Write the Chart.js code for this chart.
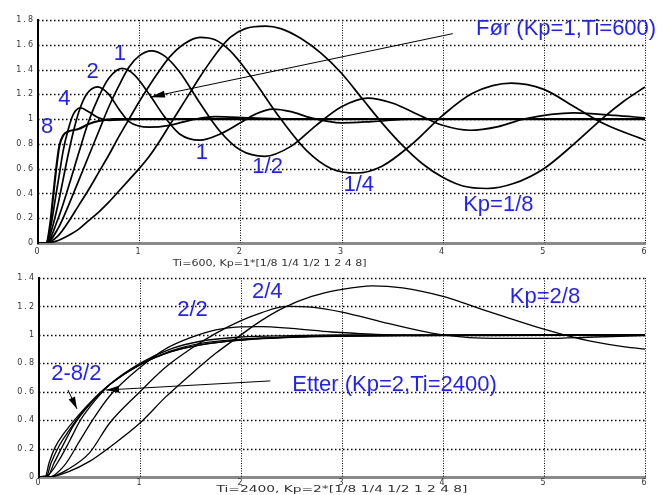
<!DOCTYPE html>
<html>
<head>
<meta charset="utf-8">
<script src="https://cdn.jsdelivr.net/npm/chart.js@4/dist/chart.umd.min.js"></script>
<style>
  body { margin: 0; background: #fff; }
  #wrap { position: relative; width: 663px; height: 495px; }
  canvas { position: absolute; left: 0; }
</style>
</head>
<body>
<div id="wrap">
  <canvas id="topChart" width="663" height="270" style="top:0"></canvas>
  <canvas id="botChart" width="663" height="225" style="top:270px"></canvas>
</div>
<script>
// ---- top plot: Ti=600, Kp = 1*[1/8 1/4 1/2 1 2 4 8] ----
const xTicks = [0, 1, 2, 3, 4, 5, 6];

const topT_1_8 = [0, 0.08, 0.2, 0.3, 0.4, 0.5, 0.6, 0.7, 0.8, 0.9, 1.0, 1.1, 1.2, 1.3, 1.4, 1.5, 1.6, 1.7, 1.8, 1.9, 2.05, 2.25, 2.4, 2.6, 2.8, 3.0, 3.2, 3.4, 3.6, 3.8, 4.0, 4.2, 4.44, 4.7, 5.0, 5.3, 5.6, 5.8, 6.0];
const topY_1_8 = [0, 0, 0.02, 0.06, 0.11, 0.18, 0.25, 0.33, 0.42, 0.51, 0.6, 0.7, 0.82, 0.95, 1.08, 1.21, 1.34, 1.46, 1.57, 1.66, 1.73, 1.75, 1.73, 1.65, 1.53, 1.37, 1.17, 0.97, 0.79, 0.64, 0.53, 0.46, 0.44, 0.48, 0.6, 0.8, 1.02, 1.15, 1.26];

const topT_1_4 = [0, 0.08, 0.2, 0.3, 0.4, 0.5, 0.6, 0.7, 0.8, 0.9, 1.0, 1.1, 1.2, 1.3, 1.45, 1.6, 1.75, 1.9, 2.1, 2.4, 2.65, 2.9, 3.15, 3.4, 3.7, 4.0, 4.3, 4.68, 5.0, 5.3, 5.6, 6.0];
const topY_1_4 = [0, 0, 0.06, 0.17, 0.3, 0.43, 0.57, 0.71, 0.86, 1.0, 1.14, 1.27, 1.39, 1.5, 1.61, 1.66, 1.64, 1.55, 1.35, 1.0, 0.75, 0.6, 0.565, 0.62, 0.8, 1.03, 1.21, 1.29, 1.24, 1.1, 0.96, 0.83];

const topT_1_2 = [0, 0.08, 0.2, 0.3, 0.4, 0.5, 0.6, 0.7, 0.8, 0.9, 1.0, 1.12, 1.25, 1.4, 1.6, 1.8, 2.0, 2.24, 2.5, 2.75, 3.0, 3.26, 3.5, 3.8, 4.0, 4.27, 4.55, 4.8, 5.3, 5.7, 6.0];
const topY_1_2 = [0, 0, 0.12, 0.3, 0.5, 0.7, 0.9, 1.1, 1.27, 1.42, 1.51, 1.55, 1.51, 1.38, 1.13, 0.9, 0.75, 0.7, 0.78, 0.95, 1.1, 1.17, 1.13, 1.02, 0.95, 0.91, 0.94, 1.0, 1.05, 1.03, 1.01];

const topT_1 = [0, 0.08, 0.2, 0.3, 0.4, 0.5, 0.6, 0.7, 0.83, 0.95, 1.1, 1.25, 1.4, 1.6, 1.8, 2.0, 2.15, 2.32, 2.5, 2.7, 3.0, 3.3, 3.7, 6.0];
const topY_1 = [0, 0, 0.2, 0.45, 0.72, 0.98, 1.18, 1.33, 1.41, 1.36, 1.2, 1.02, 0.88, 0.83, 0.88, 0.97, 1.04, 1.08, 1.06, 1.01, 0.97, 0.98, 1.0, 1.0];

const topT_2 = [0, 0.08, 0.15, 0.2, 0.25, 0.3, 0.35, 0.4, 0.48, 0.59, 0.7, 0.8, 0.9, 1.1, 1.3, 1.5, 1.75, 2.1, 2.5, 6.0];
const topY_2 = [0, 0, 0.15, 0.32, 0.52, 0.72, 0.9, 1.05, 1.2, 1.26, 1.2, 1.08, 0.98, 0.935, 0.95, 0.99, 1.02, 1.01, 1.0, 1.0];

const topT_4 = [0, 0.08, 0.13, 0.17, 0.21, 0.25, 0.3, 0.35, 0.42, 0.5, 0.6, 0.7, 0.85, 1.0, 6.0];
const topY_4 = [0, 0, 0.15, 0.35, 0.55, 0.75, 0.92, 1.04, 1.09, 1.06, 1.01, 0.99, 0.995, 1.0, 1.0];

const topT_8 = [0, 0.08, 0.12, 0.15, 0.18, 0.21, 0.25, 0.3, 0.4, 0.5, 0.6, 0.75, 6.0];
const topY_8 = [0, 0, 0.15, 0.38, 0.6, 0.78, 0.87, 0.9, 0.92, 0.96, 0.985, 1.0, 1.0];

// ---- bottom plot: Ti=2400, Kp = 2*[1/8 1/4 1/2 1 2 4 8] ----
const botT_2_8 = [0, 0.1, 0.3, 0.5, 0.7, 1.0, 1.25, 1.5, 1.75, 2.0, 2.2, 2.42, 2.7, 3.0, 3.3, 3.6, 4.0, 4.3, 4.6, 5.0, 5.2, 5.5, 5.8, 6.0];
const botY_2_8 = [0, 0, 0.04, 0.11, 0.21, 0.38, 0.56, 0.72, 0.87, 1.0, 1.1, 1.19, 1.27, 1.32, 1.345, 1.33, 1.27, 1.2, 1.13, 1.04, 1.0, 0.95, 0.915, 0.9];

const botT_2_4 = [0, 0.1, 0.3, 0.5, 0.7, 1.0, 1.25, 1.5, 1.75, 2.0, 2.2, 2.45, 2.7, 3.0, 3.4, 3.7, 4.0, 4.5, 5.0, 5.5, 6.0];
const botY_2_4 = [0, 0, 0.06, 0.17, 0.38, 0.6, 0.77, 0.9, 1.01, 1.1, 1.155, 1.2, 1.195, 1.16, 1.09, 1.04, 1.0, 0.975, 0.975, 0.985, 0.995];

const botT_2_2 = [0, 0.1, 0.25, 0.4, 0.53, 0.7, 1.0, 1.25, 1.5, 1.75, 1.95, 2.2, 2.5, 2.9, 3.3, 3.8, 4.5, 6.0];
const botY_2_2 = [0, 0, 0.08, 0.25, 0.4, 0.57, 0.77, 0.9, 0.98, 1.035, 1.055, 1.058, 1.045, 1.02, 1.005, 0.995, 0.995, 1.0];

const botT_2 = [0, 0.1, 0.2, 0.3, 0.41, 0.5, 0.7, 1.0, 1.3, 1.6, 2.0, 2.5, 3.0, 6.0];
const botY_2 = [0, 0.02, 0.12, 0.25, 0.4, 0.49, 0.65, 0.8, 0.9, 0.955, 0.985, 0.995, 1.0, 1.0];

const botT_4 = [0, 0.08, 0.15, 0.25, 0.34, 0.5, 0.7, 1.0, 1.3, 1.6, 2.0, 2.5, 3.0, 6.0];
const botY_4 = [0, 0, 0.1, 0.24, 0.36, 0.51, 0.65, 0.79, 0.885, 0.94, 0.97, 0.985, 0.995, 1.0];

const botT_8 = [0, 0.07, 0.12, 0.2, 0.3, 0.4, 0.5, 0.7, 1.0, 1.3, 1.6, 2.0, 2.5, 3.0, 4.0, 6.0];
const botY_8 = [0, 0, 0.1, 0.22, 0.33, 0.43, 0.51, 0.65, 0.79, 0.88, 0.93, 0.965, 0.985, 0.993, 0.998, 1.0];

const botT_16 = [0, 0.06, 0.1, 0.16, 0.25, 0.35, 0.5, 0.7, 1.0, 1.3, 1.6, 2.0, 2.5, 3.0, 4.0, 6.0];
const botY_16 = [0, 0, 0.1, 0.21, 0.31, 0.4, 0.52, 0.65, 0.79, 0.88, 0.93, 0.962, 0.982, 0.99, 0.997, 1.0];

// annotation text (blue) and arrows, in data units
const topLabels = [
  { text: '1', x: 0.81, y: 1.53 },
  { text: '2', x: 0.54, y: 1.38 },
  { text: '4', x: 0.26, y: 1.16 },
  { text: '8', x: 0.09, y: 0.94 },
  { text: '1', x: 1.62, y: 0.73 },
  { text: '1/2', x: 2.27, y: 0.61 },
  { text: '1/4', x: 3.17, y: 0.47 },
  { text: 'Kp=1/8', x: 4.55, y: 0.31 },
  { text: 'Før (Kp=1,Ti=600)', x: 5.22, y: 1.73 }
];
const topArrows = [{ x1: 4.10, y1: 1.69, x2: 1.107, y2: 1.177, head: 15 }];

const botLabels = [
  { text: '2/2', x: 1.52, y: 1.175 },
  { text: '2/4', x: 2.26, y: 1.30 },
  { text: 'Kp=2/8', x: 5.01, y: 1.27 },
  { text: '2-8/2', x: 0.37, y: 0.725 },
  { text: 'Etter (Kp=2,Ti=2400)', x: 3.52, y: 0.645 }
];
const botArrows = [
  { x1: 2.29, y1: 0.676, x2: 0.663, y2: 0.612, head: 13 },
  { x1: 0.287, y1: 0.612, x2: 0.376, y2: 0.479, head: 12 }
];

const pts = (t, y) => t.map((v, i) => ({ x: v, y: y[i] }));

function series(t, y, w) {
  return {
    data: pts(t, y),
    borderColor: '#000',
    borderWidth: w,
    pointRadius: 0,
    fill: false,
    cubicInterpolationMode: 'monotone'
  };
}

function overlay(labels, arrows, xlabel) {
  return {
    id: 'overlay',
    beforeDraw(chart) {
      chart.ctx.letterSpacing = '2px';
    },
    // dotted matlab-style grid from the scale ticks
    beforeDatasetsDraw(chart) {
      const ctx = chart.ctx, a = chart.chartArea;
      const sx = chart.scales.x, sy = chart.scales.y;
      ctx.save();
      ctx.strokeStyle = '#000';
      ctx.lineWidth = 1;
      ctx.setLineDash([1, 1.5]);
      sx.ticks.forEach(t => {
        const x = Math.round(sx.getPixelForValue(t.value)) + 0.5;
        if (t.value === 0) return;
        ctx.beginPath(); ctx.moveTo(x, a.top); ctx.lineTo(x, a.bottom); ctx.stroke();
      });
      ctx.lineWidth = 1.3;
      ctx.setLineDash([1.5, 2.5]);
      sy.ticks.forEach(t => {
        const y = Math.round(sy.getPixelForValue(t.value)) + 0.5;
        if (t.value === 0) return;
        ctx.beginPath(); ctx.moveTo(a.left, y); ctx.lineTo(a.right, y); ctx.stroke();
      });
      ctx.restore();
    },
    afterDatasetsDraw(chart) {
      const ctx = chart.ctx;
      const sx = chart.scales.x, sy = chart.scales.y;
      ctx.save();
      ctx.letterSpacing = '0px';
      ctx.strokeStyle = '#000';
      ctx.fillStyle = '#000';
      ctx.lineWidth = 1;
      arrows.forEach(a => {
        const x1 = sx.getPixelForValue(a.x1), y1 = sy.getPixelForValue(a.y1);
        const x2 = sx.getPixelForValue(a.x2), y2 = sy.getPixelForValue(a.y2);
        const ang = Math.atan2(y2 - y1, x2 - x1);
        ctx.beginPath();
        ctx.moveTo(x1, y1);
        ctx.lineTo(x2, y2);
        ctx.stroke();
        ctx.beginPath();
        ctx.moveTo(x2, y2);
        ctx.lineTo(x2 - a.head * Math.cos(ang) + 3.5 * Math.sin(ang), y2 - a.head * Math.sin(ang) - 3.5 * Math.cos(ang));
        ctx.lineTo(x2 - a.head * Math.cos(ang) - 3.5 * Math.sin(ang), y2 - a.head * Math.sin(ang) + 3.5 * Math.cos(ang));
        ctx.closePath();
        ctx.fill();
      });
      ctx.fillStyle = '#1f1fff';
      ctx.font = '22px "Liberation Sans", Arial, sans-serif';
      ctx.textAlign = 'center';
      ctx.textBaseline = 'middle';
      labels.forEach(l => ctx.fillText(l.text, sx.getPixelForValue(l.x), sy.getPixelForValue(l.y)));

      // axis caption, drawn wide like the original
      ctx.fillStyle = '#333';
      ctx.font = '8px "DejaVu Sans", sans-serif';
      const w = ctx.measureText(xlabel.text).width;
      ctx.translate(sx.getPixelForValue(xlabel.x), xlabel.py);
      ctx.scale(xlabel.width / w, 1);
      ctx.fillText(xlabel.text, 0, 0);
      ctx.restore();
    }
  };
}

const fmt = v => String(Math.round(v * 10) / 10);

function makeChart(id, datasets, yMax, pad, xAxisH, labels, arrows, xlabel, tickPad) {
  return new Chart(document.getElementById(id), {
    type: 'line',
    data: { datasets: datasets },
    options: {
      responsive: false,
      animation: false,
      devicePixelRatio: 1,
      layout: { padding: pad },
      plugins: { legend: { display: false }, tooltip: { enabled: false } },
      scales: {
        x: {
          type: 'linear', min: 0, max: 6,
          afterBuildTicks: s => { s.ticks = xTicks.map(v => ({ value: v })); },
          afterFit: s => { s.height = xAxisH; },
          ticks: { color: '#333', padding: tickPad, callback: fmt, font: { family: 'DejaVu Sans', size: 8 } },
          grid: { display: false, drawTicks: false },
          border: { color: '#8a8a8a', width: 3 }
        },
        y: {
          min: 0, max: yMax,
          ticks: { stepSize: 0.2, color: '#333', padding: 3, callback: fmt, font: { family: 'DejaVu Sans', size: 8 } },
          afterFit: s => { s.width = pad.yw; },
          grid: { display: false, drawTicks: false },
          border: { color: '#000', width: 2 }
        }
      }
    },
    plugins: [overlay(labels, arrows, xlabel)]
  });
}

makeChart('topChart', [
  series(topT_1_8, topY_1_8, 1.7),
  series(topT_1_4, topY_1_4, 1.7),
  series(topT_1_2, topY_1_2, 1.7),
  series(topT_1, topY_1, 1.7),
  series(topT_2, topY_2, 1.7),
  series(topT_4, topY_4, 1.7),
  series(topT_8, topY_8, 2.2)
], 1.8, { top: 20, right: 18, left: 0, bottom: 0, yw: 38 }, 27,
  topLabels, topArrows,
  { text: 'Ti=600, Kp=1*[1/8 1/4 1/2 1 2 4 8]', x: 2.29, py: 264, width: 194 }, 4);

makeChart('botChart', [
  series(botT_2_8, botY_2_8, 1.3),
  series(botT_2_4, botY_2_4, 1.3),
  series(botT_2_2, botY_2_2, 1.3),
  series(botT_2, botY_2, 1.3),
  series(botT_4, botY_4, 1.3),
  series(botT_8, botY_8, 1.3),
  series(botT_16, botY_16, 1.3)
], 1.4, { top: 8, right: 18, left: 0, bottom: 0, yw: 39 }, 18,
  botLabels, botArrows,
  { text: 'Ti=2400, Kp=2*[1/8 1/4 1/2 1 2 4 8]', x: 3.0, py: 220, width: 251 }, 1);
</script>
</body>
</html>
